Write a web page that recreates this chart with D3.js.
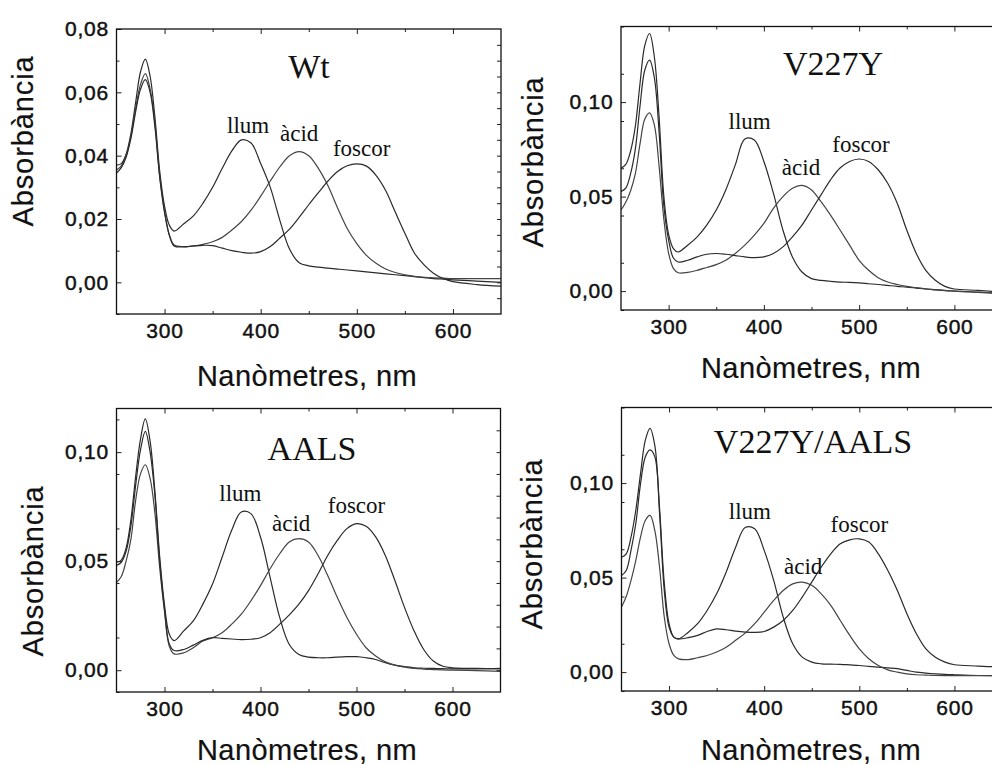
<!DOCTYPE html>
<html>
<head>
<meta charset="utf-8">
<script src="https://cdn.jsdelivr.net/npm/d3@7"></script>
<style>
  body { margin: 0; background: #fff; }
  svg { display: block; }
  .tick text { font-family: "Liberation Sans", Arial, sans-serif; font-size: 21px; fill: #111; stroke: #111; stroke-width: 0.45px; letter-spacing: 0.8px; }
  .tick line { stroke: #222; }
  .axtitle { font-family: "Liberation Sans", Arial, sans-serif; font-size: 29px; fill: #111; stroke: #111; stroke-width: 0.2px; }
  .ptitle { font-family: "Liberation Serif", "Times New Roman", serif; font-size: 34px; fill: #111; }
  .curvelabel { font-family: "Liberation Serif", "Times New Roman", serif; font-size: 23px; fill: #111; }
</style>
</head>
<body>
<script>
// wavelengths (nm) shared by every spectrum
var wavelengths = [250, 255, 260, 265, 270, 275, 280, 285, 290, 295, 300, 305, 310, 320, 330, 340, 350, 360, 370, 380, 390, 400, 410, 420, 430, 440, 450, 460, 470, 480, 490, 500, 510, 520, 530, 540, 550, 560, 570, 580, 590, 600, 625, 650];

// Wt
var wtLlum   = [.0370, .0375, .0405, .0470, .0570, .0665, .0705, .0650, .0520, .0350, .0240, .0180, .0162, .0185, .0210, .0250, .0300, .0360, .0415, .0450, .0440, .0375, .0300, .0195, .0105, .0062, .0052, .0048, .0045, .0042, .0039, .0036, .0033, .0030, .0027, .0024, .0021, .0018, .0015, .0012, .0010, .0008, .0004, .0000];
var wtAcid   = [.0355, .0368, .0400, .0460, .0550, .0625, .0659, .0610, .0500, .0335, .0225, .0150, .0118, .0113, .0115, .0120, .0128, .0142, .0165, .0192, .0228, .0272, .0320, .0365, .0400, .0413, .0400, .0360, .0305, .0235, .0170, .0122, .0085, .0060, .0042, .0031, .0024, .0019, .0016, .0014, .0013, .0012, .0012, .0012];
var wtFoscor = [.0345, .0362, .0395, .0455, .0540, .0610, .0640, .0600, .0490, .0330, .0220, .0148, .0115, .0112, .0115, .0117, .0116, .0108, .0100, .0095, .0092, .0097, .0113, .0140, .0168, .0205, .0245, .0283, .0320, .0350, .0368, .0374, .0367, .0338, .0290, .0222, .0155, .0092, .0055, .0028, .0012, .0002, -.0007, -.0012];

// V227Y
var vLlum   = [.0650, .0670, .0740, .0870, .1100, .1300, .1363, .1240, .0920, .0500, .0300, .0225, .0207, .0243, .0287, .0349, .0429, .0535, .0668, .0805, .0800, .0686, .0518, .0323, .0181, .0101, .0066, .0057, .0052, .0048, .0046, .0043, .0039, .0035, .0030, .0025, .0021, .0016, .0011, .0007, .0003, .0000, -.0007, -.0014];
var vAcid   = [.0429, .0470, .0530, .0620, .0780, .0910, .0943, .0880, .0660, .0380, .0200, .0120, .0097, .0099, .0110, .0125, .0140, .0163, .0199, .0243, .0296, .0358, .0438, .0500, .0544, .0559, .0535, .0473, .0402, .0323, .0243, .0163, .0110, .0071, .0048, .0035, .0025, .0018, .0012, .0008, .0004, .0000, -.0005, -.0010];
var vFoscor = [.0527, .0545, .0620, .0750, .0980, .1170, .1222, .1130, .0840, .0450, .0270, .0175, .0154, .0163, .0181, .0195, .0199, .0195, .0188, .0181, .0177, .0181, .0199, .0234, .0287, .0349, .0429, .0509, .0589, .0651, .0686, .0699, .0686, .0642, .0571, .0465, .0323, .0199, .0110, .0057, .0025, .0011, .0004, -.0005];

// AALS
var aLlum   = [.0495, .0505, .0560, .0690, .0890, .1060, .1152, .1050, .0820, .0520, .0300, .0165, .0136, .0180, .0226, .0303, .0395, .0518, .0642, .0725, .0718, .0611, .0426, .0242, .0118, .0072, .0060, .0057, .0057, .0060, .0062, .0062, .0057, .0049, .0034, .0023, .0017, .0011, .0009, .0008, .0007, .0006, .0006, .0008];
var aAcid   = [.0403, .0430, .0500, .0600, .0780, .0900, .0942, .0880, .0720, .0470, .0270, .0110, .0075, .0080, .0103, .0134, .0149, .0172, .0211, .0257, .0318, .0388, .0465, .0534, .0588, .0603, .0588, .0526, .0434, .0334, .0242, .0165, .0103, .0065, .0038, .0023, .0014, .0008, .0005, .0003, .0001, .0000, -.0002, -.0005];
var aFoscor = [.0480, .0495, .0545, .0660, .0850, .1010, .1095, .1000, .0800, .0500, .0280, .0120, .0090, .0095, .0115, .0137, .0149, .0146, .0143, .0140, .0142, .0149, .0172, .0211, .0254, .0303, .0365, .0442, .0526, .0595, .0649, .0672, .0660, .0611, .0526, .0411, .0288, .0180, .0095, .0042, .0018, .0011, .0008, .0006];

// V227Y/AALS
var vaLlum   = [.0608, .0626, .0714, .0855, .1050, .1226, .1290, .1200, .0870, .0470, .0256, .0185, .0176, .0210, .0256, .0326, .0414, .0529, .0661, .0765, .0758, .0644, .0485, .0291, .0150, .0079, .0053, .0044, .0042, .0041, .0038, .0035, .0030, .0026, .0022, .0018, .0009, .0000, -.0005, -.0009, -.0012, -.0014, -.0018, -.0019];
var vaAcid   = [.0344, .0400, .0485, .0590, .0714, .0802, .0829, .0750, .0555, .0290, .0150, .0088, .0070, .0066, .0076, .0088, .0106, .0132, .0168, .0206, .0256, .0317, .0379, .0432, .0467, .0476, .0459, .0414, .0353, .0273, .0194, .0123, .0071, .0035, .0012, .0000, -.0009, -.0014, -.0016, -.0018, -.0019, -.0019, -.0019, -.0019];
var vaFoscor = [.0511, .0538, .0644, .0785, .0996, .1138, .1176, .1140, .0840, .0430, .0238, .0185, .0176, .0182, .0194, .0215, .0229, .0224, .0217, .0212, .0210, .0215, .0238, .0273, .0326, .0397, .0476, .0556, .0626, .0679, .0700, .0705, .0688, .0626, .0538, .0432, .0309, .0203, .0123, .0079, .0053, .0039, .0032, .0026];

var curveNames = ["llum", "àcid", "foscor"];
// label anchors (nm, absorbance) for each panel
var wtLabelNm = [387, 440, 505],  wtLabelAbs = [0.0473, 0.0446, 0.0399];
var vLabelNm  = [385, 439, 502],  vLabelAbs  = [0.0858, 0.0615, 0.0734];
var aLabelNm  = [379, 432, 500],  aLabelAbs  = [0.0775, 0.0638, 0.0722];
var vaLabelNm = [385, 441, 500],  vaLabelAbs = [0.0811, 0.0520, 0.0741];

var xTicks = [300, 400, 500, 600];
var xMinor = [350, 450, 550];
var yTicksWt = [0, 0.02, 0.04, 0.06, 0.08];
var yTicks10 = [0, 0.05, 0.10];

var w = 992;
var h = 765;

var panels = [
  { title: "Wt", series: [wtLlum, wtAcid, wtFoscor], labNm: wtLabelNm, labAbs: wtLabelAbs,
    left: 116.5, right: 501, top: 29, bottom: 314, yMax: 0.08, yTicks: yTicksWt, minorStep: 0.01, rightStep: 0.005,
    tx: 309, ty: 78, xtx: 307, xty: 386, ytx: 33, yty: 141 },
  { title: "V227Y", series: [vLlum, vAcid, vFoscor], labNm: vLabelNm, labAbs: vLabelAbs,
    left: 621, right: 1002, top: 26.5, bottom: 310, yMax: 0.14, yTicks: yTicks10, minorStep: 0.025, rightStep: 0.025,
    tx: 833, ty: 75, xtx: 811, xty: 378, ytx: 543, yty: 162 },
  { title: "AALS", series: [aLlum, aAcid, aFoscor], labNm: aLabelNm, labAbs: aLabelAbs,
    left: 116.5, right: 500.5, top: 408.5, bottom: 692, yMax: 0.12, yTicks: yTicks10, minorStep: 0.025, rightStep: 0.01,
    tx: 312, ty: 460, xtx: 307, xty: 760, ytx: 43, yty: 571 },
  { title: "V227Y/AALS", series: [vaLlum, vaAcid, vaFoscor], labNm: vaLabelNm, labAbs: vaLabelAbs,
    left: 621.5, right: 1002, top: 407.5, bottom: 691, yMax: 0.14, yTicks: yTicks10, minorStep: 0.025, rightStep: 0.025,
    tx: 813, ty: 453, xtx: 811, xty: 760, ytx: 541.5, yty: 544 }
];

var locale = d3.formatLocale({ decimal: ",", thousands: ".", grouping: [3], currency: ["", ""] });
var fmt = locale.format(".2f");

var svg = d3.select("body")
  .append("svg")
  .attr("width", w)
  .attr("height", h);

panels.forEach(function(p, pi) {
  var x = d3.scaleLinear().domain([250, 650]).range([p.left, p.right]);
  var y = d3.scaleLinear().domain([-0.01, p.yMax]).range([p.bottom, p.top]);

  var g = svg.append("g");

  svg.append("clipPath")
    .attr("id", "clip" + pi)
    .append("rect")
    .attr("x", p.left).attr("y", p.top)
    .attr("width", p.right - p.left).attr("height", p.bottom - p.top);

  var line = d3.line()
    .x(function(d, i) { return x(wavelengths[i]); })
    .y(function(d) { return y(d); })
    .curve(d3.curveCatmullRom);

  g.append("g")
    .attr("clip-path", "url(#clip" + pi + ")")
    .selectAll("path")
    .data(p.series)
    .enter()
    .append("path")
    .attr("d", line)
    .attr("fill", "none")
    .attr("stroke", function(d, i) { return i == 1 ? "#444" : "#2a2a2a"; })
    .attr("stroke-width", 1.2);

  // minor values
  var yMinor = d3.range(-0.01, p.yMax + 1e-9, p.minorStep).filter(function(v) {
    return !p.yTicks.some(function(t) { return Math.abs(t - v) < 1e-9; });
  });
  var yRight = d3.range(-0.01 + p.rightStep, p.yMax - 1e-9, p.rightStep);

  // bottom
  g.append("g")
    .attr("transform", "translate(0," + p.bottom + ")")
    .call(d3.axisBottom(x).tickValues(xTicks).tickSize(-5).tickPadding(9).tickFormat(d3.format("d")));
  g.append("g")
    .attr("transform", "translate(0," + p.bottom + ")")
    .call(d3.axisBottom(x).tickValues(xMinor).tickSize(-3).tickFormat(""));
  // top
  g.append("g")
    .attr("transform", "translate(0," + p.top + ")")
    .call(d3.axisTop(x).tickValues(xTicks).tickSize(-5).tickFormat(""));
  g.append("g")
    .attr("transform", "translate(0," + p.top + ")")
    .call(d3.axisTop(x).tickValues(xMinor).tickSize(-3).tickFormat(""));
  // left
  g.append("g")
    .attr("transform", "translate(" + p.left + ",0)")
    .call(d3.axisLeft(y).tickValues(p.yTicks).tickSize(-5).tickPadding(7.5).tickFormat(fmt));
  g.append("g")
    .attr("transform", "translate(" + p.left + ",0)")
    .call(d3.axisLeft(y).tickValues(yMinor).tickSize(-3).tickFormat(""));
  // right
  g.append("g")
    .attr("transform", "translate(" + p.right + ",0)")
    .call(d3.axisRight(y).tickValues(yRight).tickSize(-4).tickFormat(""));

  g.selectAll(".domain").remove();

  g.append("rect")
    .attr("x", p.left).attr("y", p.top)
    .attr("width", p.right - p.left).attr("height", p.bottom - p.top)
    .attr("fill", "none")
    .attr("stroke", "#111")
    .attr("stroke-width", 1.3);

  g.append("text")
    .attr("class", "ptitle")
    .attr("x", p.tx).attr("y", p.ty)
    .attr("text-anchor", "middle")
    .text(p.title);

  g.selectAll(".curvelabel")
    .data(curveNames)
    .enter()
    .append("text")
    .attr("class", "curvelabel")
    .attr("x", function(d, i) { return x(p.labNm[i]); })
    .attr("y", function(d, i) { return y(p.labAbs[i]); })
    .attr("text-anchor", "middle")
    .text(function(d) { return d; });

  g.append("text")
    .attr("class", "axtitle")
    .attr("x", p.xtx).attr("y", p.xty)
    .attr("text-anchor", "middle")
    .style("letter-spacing", "0.4px")
    .text("Nanòmetres, nm");

  g.append("text")
    .attr("class", "axtitle")
    .attr("transform", "translate(" + p.ytx + "," + p.yty + ") rotate(-90)")
    .attr("text-anchor", "middle")
    .style("letter-spacing", "0.9px")
    .text("Absorbància");
});
</script>
</body>
</html>
